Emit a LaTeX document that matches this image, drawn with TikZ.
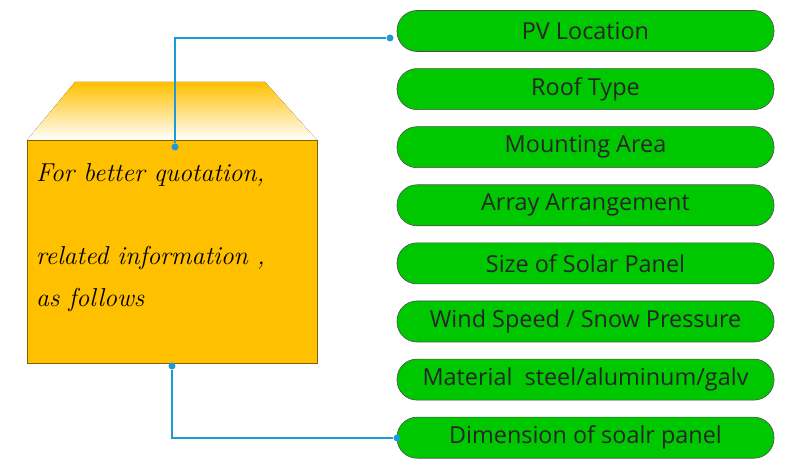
\documentclass[tikz,border=0pt]{standalone}
\usepackage{fontspec}
\newfontfamily\pillfont{Open Sans}
\definecolor{boxc}{RGB}{255,192,0}
\definecolor{pillc}{RGB}{0,200,0}
\definecolor{linkc}{RGB}{30,155,215}
\begin{document}
\begin{tikzpicture}[x=1bp,y=-1bp,
  pill/.style={draw=black!70,fill=pillc,rounded corners=20bp,minimum width=377bp,minimum height=41bp,font=\pillfont\fontsize{23.5}{25}\selectfont,text=black!85,line width=0.6pt},
  link/.style={draw=linkc,line width=1.2pt},
  dot/.style={circle,fill=linkc,inner sep=0pt,minimum size=7bp}]
\useasboundingbox (0,0) rectangle (800,471);
\fill[top color=boxc,bottom color=white] (75,82) -- (265,82) -- (317,140) -- (27,140) -- cycle;
\node[draw=black!50!boxc,fill=boxc,minimum width=290bp,minimum height=223bp,anchor=north west,inner sep=0pt] (box) at (27,140) {};
\node[anchor=north west,align=left,font=\itshape\fontsize{26}{42}\selectfont,inner sep=0pt] (txt) at (36,163) {For better quotation,\\ \strut\\ related information ,\\ as follows};
\foreach \t [count=\i] in {PV Location,Roof Type,Mounting Area,Array Arrangement,Size of Solar Panel,Wind Speed / Snow Pressure,Material\ \ steel/aluminum/galv,Dimension of soalr panel}
  \node[pill] (p\i) at (585.5,{31+(\i-1)*58.1}) {\t};
\node[dot] (d1) at (175,147) {};
\node[dot] (d2) at (390,38) {};
\node[dot] (d3) at (172,366) {};
\node[dot] (d4) at (397,438) {};
\draw[link] (d1) |- (d2);
\draw[link] (d3) |- (d4);
\end{tikzpicture}
\end{document}
